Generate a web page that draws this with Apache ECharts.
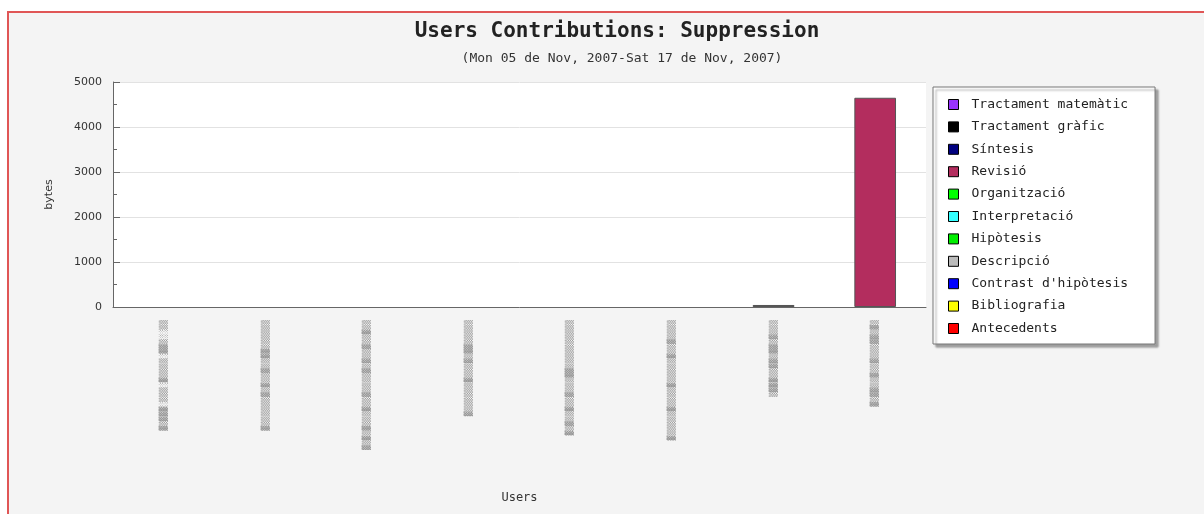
<!DOCTYPE html>
<html>
<head>
<meta charset="utf-8">
<script src="https://cdn.jsdelivr.net/npm/echarts@6/dist/echarts.min.js"></script>
<style>
  html, body { margin: 0; padding: 0; background: #ffffff; overflow: hidden; }
  #frame { position: absolute; left: 7px; top: 11px; width: 1300px; height: 600px;
           border: 2px solid #e05656; background: #f4f4f4; }
  #chart { position: absolute; left: 0; top: 0; width: 1204px; height: 514px; }
</style>
</head>
<body>
<div id="frame"></div>
<div id="chart"></div>
<script>
// Users (names are pixelated in the original, shown as blurred blocks)
const users = [
  '▓▒▓▓▓░▒▒▒░▓▒▒▒▒░▓▓▒░░▒▒',
  '▓▒▒▒▒▒▒▓▒▓▒▒▓▒▒▓▓▒▒▒▒▒▒',
  '▓▒▓▒▓▒▒▒▓▒▒▓▒▒▒▒▓▒▓▒▒▓▒▒▓▒▒',
  '▓▒▒▒▒▒▒▓▒▒▒▓▒▓▓▒▒▒▒▒',
  '▓▒▓▒▒▓▒▒▓▒▒▒▓▓▒▒▒▒▒▒▒▒▒▒',
  '▓▒▒▒▒▒▓▒▒▒▒▓▒▒▒▒▒▓▒▒▓▒▒▒▒',
  '▒▓▓▓▒▒▓▓▒▓▓▒▓▒▒▒',
  '▓▒▓▓▒▒▓▒▒▓▒▒▒▓▓▒▓▒'
];

const seriesNames = [
  'Tractament matemàtic', 'Tractament gràfic', 'Síntesis', 'Revisió',
  'Organització', 'Interpretació', 'Hipòtesis', 'Descripció',
  "Contrast d'hipòtesis", 'Bibliografia', 'Antecedents'
];
const seriesColors = [
  '#9933ff', '#000000', '#000080', '#b32d5e',
  '#00ff00', '#33ffff', '#00ee00', '#bbbbbb',
  '#0000ff', '#ffff00', '#ff0000'
];

// bytes per user, one array per series
const tractamentMatematic = [0, 0, 0, 0, 0, 0, 0, 0];
const tractamentGrafic    = [0, 0, 0, 0, 0, 0, 45, 0];
const sintesis            = [0, 0, 0, 0, 0, 0, 0, 0];
const revisio             = [0, 0, 0, 0, 0, 0, 0, 4650];
const organitzacio        = [0, 0, 0, 0, 0, 0, 0, 0];
const interpretacio       = [0, 0, 0, 0, 0, 0, 0, 0];
const hipotesis           = [0, 0, 0, 0, 0, 0, 0, 0];
const descripcio          = [0, 0, 0, 0, 0, 0, 0, 0];
const contrastHipotesis   = [0, 0, 0, 0, 0, 0, 0, 0];
const bibliografia        = [0, 0, 0, 0, 0, 0, 0, 0];
const antecedents         = [0, 0, 0, 0, 0, 0, 0, 0];

const seriesData = [
  tractamentMatematic, tractamentGrafic, sintesis, revisio,
  organitzacio, interpretacio, hipotesis, descripcio,
  contrastHipotesis, bibliografia, antecedents
];

const yTicks = { min: 0, max: 5000, interval: 1000 };

const mono = 'DejaVu Sans Mono';

const chart = echarts.init(document.getElementById('chart'));
chart.setOption({
  backgroundColor: 'transparent',
  animation: false,
  title: [
    { text: 'Users Contributions: Suppression', left: 612, top: 16, textAlign: 'center',
      textStyle: { fontFamily: mono, fontWeight: 'bold', fontSize: 21, color: '#222' } },
    { text: '(Mon 05 de Nov, 2007-Sat 17 de Nov, 2007)', left: 617, top: 47, textAlign: 'center',
      textStyle: { fontFamily: mono, fontWeight: 'normal', fontSize: 13, color: '#333' } }
  ],
  legend: {
    orient: 'vertical',
    left: 933, top: 87,
    data: seriesNames,
    itemWidth: 10, itemHeight: 10, itemGap: 9.4,
    padding: [11, 27, 9, 15],
    backgroundColor: '#ffffff',
    borderColor: '#777', borderWidth: 1, borderRadius: 0,
    shadowColor: 'rgba(0,0,0,0.35)', shadowBlur: 2, shadowOffsetX: 3, shadowOffsetY: 3,
    icon: 'rect',
    itemStyle: { borderColor: '#000', borderWidth: 1 },
    textStyle: { fontFamily: mono, fontSize: 13, color: '#222', padding: [0, 0, 0, 8] },
    selectedMode: false
  },
  grid: {
    left: 113, right: 278, top: 82, bottom: 207,
    show: true, backgroundColor: '#ffffff', borderWidth: 0
  },
  xAxis: {
    type: 'category',
    data: users,
    name: 'Users',
    nameLocation: 'middle',
    nameGap: 185,
    nameTextStyle: { fontFamily: mono, fontSize: 12, color: '#333' },
    axisLine: { lineStyle: { color: '#666' } },
    axisTick: { inside: true, length: 7, lineStyle: { color: '#666' } },
    axisLabel: { rotate: 90, margin: 13, fontFamily: mono, fontSize: 8, color: '#999', interval: 0 },
    splitLine: { show: false }
  },
  yAxis: {
    type: 'value',
    min: yTicks.min, max: yTicks.max, interval: yTicks.interval,
    name: 'bytes',
    nameLocation: 'middle',
    nameGap: 58,
    nameTextStyle: { fontFamily: 'DejaVu Sans', fontSize: 11, color: '#333' },
    axisLine: { show: true, lineStyle: { color: '#666' } },
    axisTick: { show: true, inside: true, length: 7, lineStyle: { color: '#666' } },
    minorTick: { show: true, splitNumber: 2, length: 4, lineStyle: { color: '#666' } },
    axisLabel: { margin: 11, fontFamily: 'DejaVu Sans', fontSize: 11, color: '#333',
                 formatter: v => String(v) },
    splitLine: { show: true, lineStyle: { color: '#e2e2e2' } }
  },
  series: seriesNames.map((name, i) => ({
    name: name,
    type: 'bar',
    stack: 'all',
    barWidth: '41%',
    itemStyle: { color: seriesColors[i], borderColor: '#555', borderWidth: 1 },
    data: seriesData[i].map(v => (v === 0 ? null : v))
  }))
});
</script>
</body>
</html>
